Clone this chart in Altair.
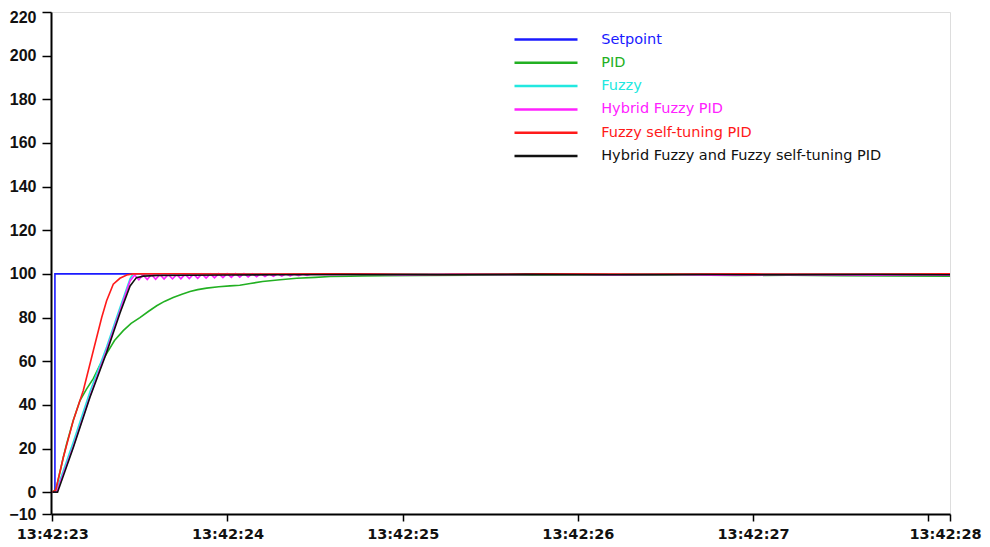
import altair as alt
import pandas as pd

# ---- series (t = seconds after 13:42:23) ----
series_names = ["Setpoint", "PID", "Fuzzy", "Hybrid Fuzzy PID",
                "Fuzzy self-tuning PID", "Hybrid Fuzzy and Fuzzy self-tuning PID"]
series_colors = ["#1a1aff", "#22b022", "#22e8e0", "#ff22ff", "#ff1a1a", "#111111"]

setpoint_t = [0, 0.015, 0.015, 5.124]
setpoint_v = [0, 0, 100, 100]

pid_t = [0, 0.02, 0.063, 0.082, 0.12, 0.158, 0.196, 0.234, 0.27, 0.31, 0.355, 0.405,
         0.45, 0.5, 0.55, 0.596, 0.64, 0.69, 0.74, 0.786, 0.83, 0.881, 0.95, 1.014,
         1.07, 1.13, 1.2, 1.3, 1.395, 1.5, 1.585, 1.7, 1.77, 1.9, 2.1, 2.4, 2.7, 3.0,
         3.3, 3.6, 3.9, 4.2, 4.5, 4.8, 5.124]
pid_v = [0, 1, 16, 22.2, 33, 42, 47.3, 52, 58, 63.5, 69.5, 74, 77.3, 80, 82.9, 85.4,
         87.4, 89.2, 90.7, 91.9, 92.8, 93.5, 94.1, 94.5, 94.8, 95.6, 96.5, 97.3, 98,
         98.4, 98.8, 99.0, 99.1, 99.2, 99.3, 99.4, 99.4, 99.5, 99.4, 99.5, 99.3, 99.4,
         99.2, 99.1, 99.0]

fuzzy_t = [0, 0.02, 0.12, 0.215, 0.31, 0.386, 0.444, 0.462, 0.6, 0.9, 1.3, 1.8, 2.4,
           3.0, 3.6, 4.2, 4.8, 5.124]
fuzzy_v = [0, 0, 23, 46, 66.5, 84.5, 97.8, 100, 100.1, 99.9, 100.1, 100, 99.9, 100.1,
           100, 99.9, 100, 100]

hybrid_t = [0, 0.025, 0.12, 0.215, 0.31, 0.386, 0.444,
            0.470, 0.494, 0.518, 0.542, 0.566, 0.590, 0.614, 0.638, 0.662, 0.686,
            0.710, 0.734, 0.758, 0.782, 0.806, 0.830, 0.854, 0.878, 0.902, 0.926,
            0.950, 0.974, 0.998, 1.022, 1.046, 1.070, 1.094, 1.118, 1.142, 1.166,
            1.190, 1.214, 1.238, 1.262, 1.286, 1.310, 1.334, 1.358, 1.382, 1.406,
            1.430, 1.454, 1.478, 1.6, 1.8, 2.0, 2.3, 2.6, 2.9, 3.2, 3.5, 3.8, 4.1,
            4.4, 4.7, 5.0, 5.124]
hybrid_v = [0, 0, 21, 44, 65, 83, 96.8,
            99.5, 97.3, 99.6, 97.4, 99.7, 97.5, 99.7, 97.6, 99.8, 97.7,
            99.8, 97.8, 99.9, 97.9, 99.9, 98.0, 100.0, 98.1, 100.0, 98.2,
            100.1, 98.3, 100.1, 98.4, 100.2, 98.5, 100.2, 98.6, 100.1, 98.7,
            100.1, 98.8, 100.0, 98.9, 100.0, 99.0, 100.0, 99.1, 99.9, 99.2,
            99.9, 99.3, 99.8, 99.6, 99.9, 99.5, 99.8, 99.6, 99.9, 99.5, 99.7, 99.4,
            99.6, 99.5, 99.4, 99.5, 99.4]

fst_t = [0, 0.02, 0.063, 0.12, 0.177, 0.234, 0.282, 0.31, 0.348, 0.386, 0.425, 0.46,
         0.7, 1.1, 1.6, 2.2, 2.8, 3.4, 4.0, 4.6, 5.124]
fst_v = [0, 1, 16, 32.9, 46.6, 64.8, 80, 87.7, 95.3, 98, 99.5, 100, 100.1, 99.9,
         100.1, 99.8, 100, 99.9, 100, 99.9, 100]

hffst_t = [0, 0.03, 0.12, 0.215, 0.31, 0.386, 0.444, 0.48, 0.52, 0.6, 0.8, 1.0, 1.3,
           1.7, 2.2, 2.7, 3.2, 3.7, 4.2, 4.7, 5.124]
hffst_v = [0, 0, 20.5, 43.5, 64, 82, 94.5, 98.3, 99.0, 99.3, 99.4, 99.5, 99.6, 99.7,
           99.6, 99.8, 99.6, 99.7, 99.6, 99.7, 99.6]

x_tick_values = [0, 1, 2, 3, 4, 5, 5.124]
x_tick_labels = ["13:42:23", "13:42:24", "13:42:25", "13:42:26", "13:42:27", "", "13:42:28"]
y_tick_values = [-10, 0, 20, 40, 60, 80, 100, 120, 140, 160, 180, 200, 220]

all_t = [setpoint_t, pid_t, fuzzy_t, hybrid_t, fst_t, hffst_t]
all_v = [setpoint_v, pid_v, fuzzy_v, hybrid_v, fst_v, hffst_v]

rows = []
for k, (name, ts, vs) in enumerate(zip(series_names, all_t, all_v)):
    for i, (t, v) in enumerate(zip(ts, vs)):
        rows.append({"series": name, "t": t, "v": v, "order": i, "s": k})
df = pd.DataFrame(rows)

label_expr = ""
for val, lab in zip(x_tick_values, x_tick_labels):
    label_expr += f"abs(datum.value - {val}) < 0.001 ? '{lab}' : "
label_expr += "''"

FONT = "DejaVu Sans"

chart = alt.Chart(df).mark_line(strokeWidth=1.6).encode(
    x=alt.X("t:Q",
            scale=alt.Scale(domain=[-0.0074, 5.124], nice=False, zero=False),
            axis=alt.Axis(values=x_tick_values, labelExpr=label_expr, title=None,
                          grid=False, tickSize=7, tickColor="#000", tickWidth=1.5,
                          domainColor="#000", domainWidth=2, labelPadding=6,
                          labelFont=FONT, labelFontWeight="bold", labelFontSize=14.5,
                          labelColor="#111", labelFlush=False, labelOverlap=False,
                          labelOffset=alt.ExprRef("datum.value > 5.1 ? -5 : 0"))),
    y=alt.Y("v:Q",
            scale=alt.Scale(domain=[-10, 220], nice=False, zero=False),
            axis=alt.Axis(values=y_tick_values, title=None, grid=False, tickSize=9,
                          tickColor="#000", tickWidth=1.5, domainColor="#000",
                          domainWidth=2, labelPadding=6, labelFont="Liberation Sans",
                          labelFontWeight="bold", labelFontSize=16, labelColor="#111",
                          labelOverlap=False, labelFlush=False,
                          labelOffset=alt.ExprRef("datum.value > 210 ? 5 : 0"))),
    color=alt.Color("series:N",
                    scale=alt.Scale(domain=series_names, range=series_colors),
                    legend=alt.Legend(title=None, orient="none", legendX=483.5, legendY=16,
                                      symbolType="M-3.15,0H3.15", symbolSize=400,
                                      symbolStrokeWidth=2.5, labelFont=FONT,
                                      labelFontSize=14.5, labelOffset=43.7, padding=0,
                                      rowPadding=5.3, labelLimit=400,
                                      labelColor=alt.ExprRef("scale('color', datum.value)"))),
    detail="s:N",
    order="order:Q",
).properties(
    width=899, height=502,
    autosize=alt.AutoSizeParams(type="none"),
    padding={"left": 43, "top": 4, "right": 32, "bottom": 33},
).configure_view(stroke="#444", strokeWidth=2).configure(background="white")

chart.save("out.html", embed_options={"renderer": "svg", "actions": False})
